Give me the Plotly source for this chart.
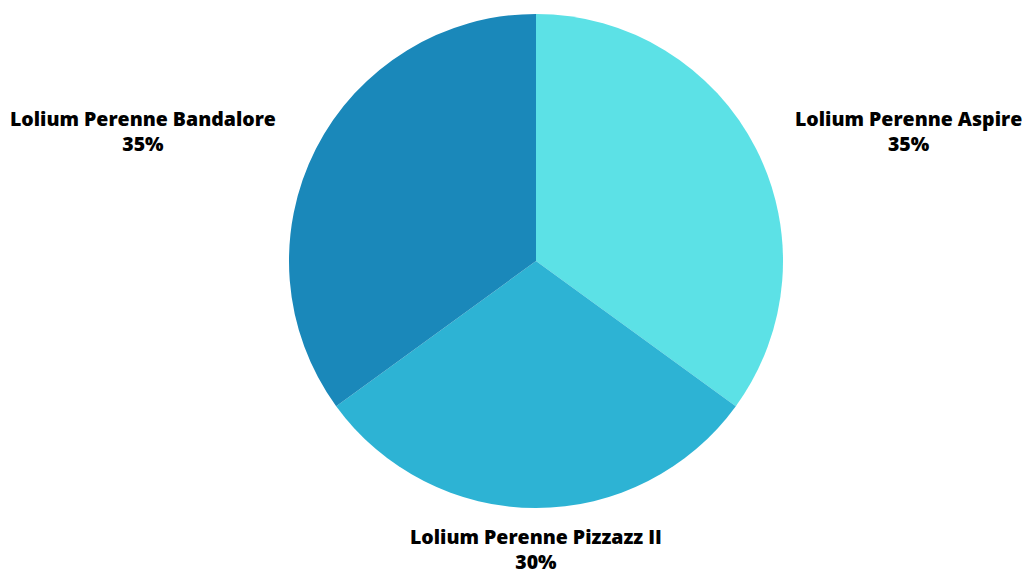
import plotly.graph_objects as go

labels = ["Lolium Perenne Aspire", "Lolium Perenne Pizzazz II", "Lolium Perenne Bandalore"]
values = [35, 30, 35]
colors = ["#5CE1E6", "#2DB3D4", "#1A88BA"]

W, H = 1023, 570
cx, cy, r = 536, 261, 247

fig = go.Figure(go.Pie(
    labels=labels, values=values, sort=False, direction="clockwise", rotation=0,
    marker=dict(colors=colors, line=dict(width=0)),
    textinfo="none", hoverinfo="label+percent", showlegend=False,
    domain=dict(x=[(cx - r) / W, (cx + r) / W], y=[1 - (cy + r) / H, 1 - (cy - r) / H]),
))

label_pos = {
    "Lolium Perenne Aspire": (908, 131),
    "Lolium Perenne Pizzazz II": (536, 549),
    "Lolium Perenne Bandalore": (143, 131),
}
total = sum(values)
for lab, v in zip(labels, values):
    x, y = label_pos[lab]
    fig.add_annotation(
        x=x / W, y=1 - y / H, xref="paper", yref="paper",
        text=f"{lab}<br>{round(v / total * 100)}%", showarrow=False,
        font=dict(family="Open Sans", size=19.5, color="#000000", weight=800),
        align="center", xanchor="center", yanchor="middle", borderpad=0,
    )

fig.update_layout(
    width=W, height=H, margin=dict(l=0, r=0, t=0, b=0),
    paper_bgcolor="white", plot_bgcolor="white",
)
fig.write_html(
    "out.html",
    config={"displayModeBar": False},
    post_script="document.body.style.margin='0';document.body.style.overflow='hidden';",
)
